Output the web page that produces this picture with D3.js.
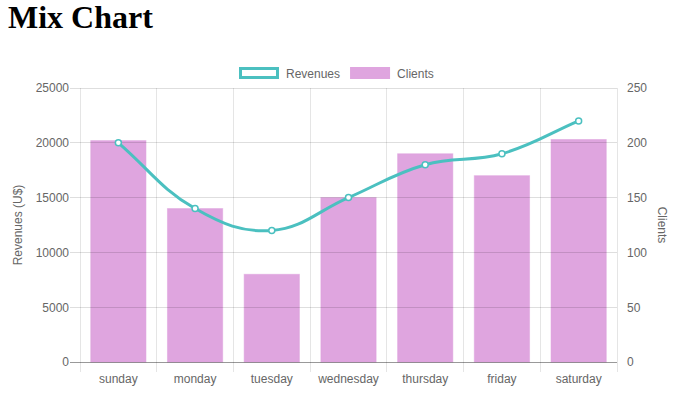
<!DOCTYPE html>
<html>
<head>
<meta charset="utf-8">
<script src="https://cdn.jsdelivr.net/npm/d3@7"></script>
<style>
  body { margin: 0; background: #fff; }
  svg { display: block; }
</style>
</head>
<body>
<svg id="chart"></svg>
<script>
// chart data
var days = ['sunday', 'monday', 'tuesday', 'wednesday', 'thursday', 'friday', 'saturday'];
var revenues = [20000, 14000, 12000, 15000, 18000, 19000, 22000];
var clients = [202, 140, 80, 150, 190, 170, 203];
var revTicks = [0, 5000, 10000, 15000, 20000, 25000];
var clientTicks = [0, 50, 100, 150, 200, 250];

var width = 676,
	height = 395,
	plotLeft = 80,
	plotRight = 617,
	plotTop = 88,
	plotBottom = 362;

var font = '"Liberation Sans", Arial, Helvetica, sans-serif';
var textColor = '#666';
var teal = '#4bc0c0';
var plum = 'rgba(221,160,221,0.95)';

var svg = d3.select('#chart')
	.attr('width', width)
	.attr('height', height);

// title
svg.append('text')
	.attr('x', 8)
	.attr('y', 28)
	.style('font-family', '"Liberation Serif", "Times New Roman", serif')
	.style('font-weight', 'bold')
	.style('font-size', '32px')
	.style('fill', '#000')
	.text('Mix Chart');

var x = d3.scaleBand().domain(days).range([plotLeft, plotRight]).padding(0);
var xBar = d3.scaleBand().domain(days).range([plotLeft, plotRight]).paddingInner(0.28).paddingOuter(0.14);
var yL = d3.scaleLinear().domain([0, 25000]).range([plotBottom, plotTop]);
var yR = d3.scaleLinear().domain([0, 250]).range([plotBottom, plotTop]);

// vertical grid lines on category edges
var edges = days.map(function (d) { return x(d); }).concat([plotRight]);
svg.append('g').selectAll('line').data(edges)
	.enter().append('line')
	.attr('x1', function (d) { return d; })
	.attr('x2', function (d) { return d; })
	.attr('y1', plotTop)
	.attr('y2', plotBottom + 10)
	.style('stroke', 'rgba(0,0,0,0.1)')
	.style('shape-rendering', 'crispEdges');

// bars (clients, right axis)
svg.append('g').selectAll('rect').data(clients)
	.enter().append('rect')
	.attr('x', function (d, i) { return xBar(days[i]); })
	.attr('width', xBar.bandwidth())
	.attr('y', function (d) { return yR(d); })
	.attr('height', function (d) { return plotBottom - yR(d); })
	.style('fill', plum)
	.style('stroke', 'rgba(221,160,221,0.5)')
	.style('stroke-width', 1);

// horizontal grid lines (show through the bars)
svg.append('g').selectAll('line').data(revTicks.slice(1))
	.enter().append('line')
	.attr('x1', plotLeft - 10)
	.attr('x2', plotRight)
	.attr('y1', function (d) { return yL(d); })
	.attr('y2', function (d) { return yL(d); })
	.style('stroke', 'rgba(0,0,0,0.13)')
	.style('shape-rendering', 'crispEdges');

// zero line
svg.append('line')
	.attr('x1', plotLeft - 10)
	.attr('x2', plotRight)
	.attr('y1', yL(0))
	.attr('y2', yL(0))
	.style('stroke', 'rgba(0,0,0,0.4)')
	.style('shape-rendering', 'crispEdges');

// left axis labels
var gl = svg.append('g')
	.attr('transform', 'translate(' + plotLeft + ',0)')
	.call(d3.axisLeft(yL).tickValues(revTicks).tickFormat(d3.format('d')).tickSize(0).tickPadding(11));
gl.select('.domain').remove();

// right axis labels
var gr = svg.append('g')
	.attr('transform', 'translate(' + plotRight + ',0)')
	.call(d3.axisRight(yR).tickValues(clientTicks).tickSize(0).tickPadding(10));
gr.select('.domain').remove();

// bottom labels
var gb = svg.append('g')
	.attr('transform', 'translate(0,' + plotBottom + ')')
	.call(d3.axisBottom(x).tickSize(0).tickPadding(12));
gb.select('.domain').remove();

svg.selectAll('.tick text')
	.style('font-family', font)
	.style('font-size', '12px')
	.style('fill', textColor);

// axis titles
svg.append('text')
	.attr('transform', 'translate(22,' + ((plotTop + plotBottom) / 2) + ') rotate(-90)')
	.attr('text-anchor', 'middle')
	.style('font-family', font)
	.style('font-size', '12px')
	.style('fill', textColor)
	.text('Revenues (U$)');

svg.append('text')
	.attr('transform', 'translate(658,' + ((plotTop + plotBottom) / 2) + ') rotate(90)')
	.attr('text-anchor', 'middle')
	.style('font-family', font)
	.style('font-size', '12px')
	.style('fill', textColor)
	.text('Clients');

// line (revenues, left axis) - bezier like chart.js tension 0.4
var pts = revenues.map(function (d, i) {
	return { x: x(days[i]) + x.bandwidth() / 2, y: yL(d) };
});
var tension = 0.4;
pts.forEach(function (p, i) {
	var p0 = pts[i - 1] || p, p2 = pts[i + 1] || p;
	var d01 = Math.hypot(p.x - p0.x, p.y - p0.y);
	var d12 = Math.hypot(p2.x - p.x, p2.y - p.y);
	var s01 = d01 / (d01 + d12) || 0, s12 = d12 / (d01 + d12) || 0;
	var fa = tension * s01, fb = tension * s12;
	p.cpx0 = p.x - fa * (p2.x - p0.x);
	p.cpy0 = p.y - fa * (p2.y - p0.y);
	p.cpx1 = p.x + fb * (p2.x - p0.x);
	p.cpy1 = p.y + fb * (p2.y - p0.y);
});
var path = d3.path();
path.moveTo(pts[0].x, pts[0].y);
for (var i = 1; i < pts.length; i++) {
	path.bezierCurveTo(pts[i - 1].cpx1, pts[i - 1].cpy1, pts[i].cpx0, pts[i].cpy0, pts[i].x, pts[i].y);
}
svg.append('path')
	.attr('d', path.toString())
	.style('fill', 'none')
	.style('stroke', teal)
	.style('stroke-width', 3);

svg.append('g').selectAll('circle').data(pts)
	.enter().append('circle')
	.attr('cx', function (d) { return d.x; })
	.attr('cy', function (d) { return d.y; })
	.attr('r', 3)
	.style('fill', '#fff')
	.style('stroke', teal)
	.style('stroke-width', 1.5);

// legend
var legend = svg.append('g');
var lx = 239;
var items = [
	{ name: 'Revenues', fill: '#fff', stroke: teal },
	{ name: 'Clients', fill: plum, stroke: 'none' }
];
items.forEach(function (it) {
	var g = legend.append('g');
	g.append('rect')
		.attr('x', it.stroke === 'none' ? lx : lx + 1.5)
		.attr('y', it.stroke === 'none' ? 67 : 68.5)
		.attr('width', it.stroke === 'none' ? 40 : 37)
		.attr('height', it.stroke === 'none' ? 12 : 9)
		.style('fill', it.fill)
		.style('stroke', it.stroke)
		.style('stroke-width', 3);
	var t = g.append('text')
		.attr('x', lx + 47)
		.attr('y', 77.5)
		.style('font-family', font)
		.style('font-size', '12px')
		.style('fill', textColor)
		.text(it.name);
	lx = lx + 47 + t.node().getComputedTextLength() + 10;
});
</script>
</body>
</html>
